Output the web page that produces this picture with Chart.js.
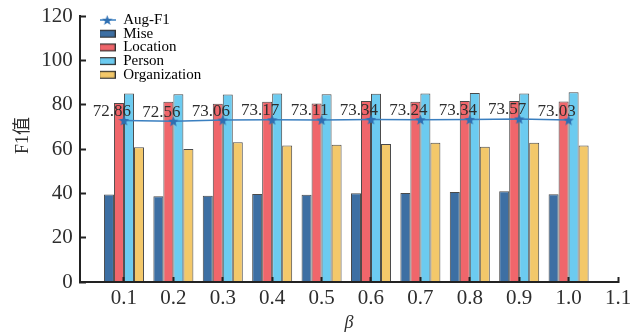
<!DOCTYPE html>
<html>
<head>
<meta charset="utf-8">
<script src="https://cdn.jsdelivr.net/npm/chart.js@4/dist/chart.umd.min.js"></script>
<style>
  html, body { margin: 0; padding: 0; background: #ffffff; }
  #wrap { width: 642px; height: 335px; }
</style>
</head>
<body>
<div id="wrap"><canvas id="c" width="642" height="335"></canvas></div>
<script>
// ---- data ----
const betaValues = [0.1, 0.2, 0.3, 0.4, 0.5, 0.6, 0.7, 0.8, 0.9, 1.0];
const xTickValues = [0.1, 0.2, 0.3, 0.4, 0.5, 0.6, 0.7, 0.8, 0.9, 1.0, 1.1];
const yTickValues = [0, 20, 40, 60, 80, 100, 120];
const miseValues = [39.5, 38.7, 38.9, 39.7, 39.4, 40.0, 40.2, 40.6, 40.9, 39.6];
const locationValues = [80.8, 81.3, 80.4, 81.3, 80.5, 81.6, 81.3, 81.7, 81.7, 81.4];
const personValues = [85.0, 84.7, 84.6, 85.0, 84.7, 84.9, 85.0, 85.3, 85.0, 85.6];
const organizationValues = [60.8, 60.0, 63.1, 61.6, 61.9, 62.3, 62.8, 61.0, 62.8, 61.6];
const augF1Values = [72.86, 72.56, 73.06, 73.17, 73.11, 73.34, 73.24, 73.34, 73.57, 73.03];
const seriesNames = ['Aug-F1', 'Mise', 'Location', 'Person', 'Organization'];
const xTitle = 'β';
const yTitle = 'F1值';

// ---- styles ----
const SERIF = "'Liberation Serif', 'Times New Roman', 'Noto Sans CJK SC', serif";
const TEXT = '#2e2e2e';
const AXIS = '#222222';
const LINE_BLUE = '#3a7fc0';
const STAR_BLUE = '#2e6fb2';
const barColors = ['#3d6fa3', '#f0666b', '#6ccbf0', '#f3c86a'];
const barBorder = '#4a4a4a';

function starPath(ctx, cx, cy, R, r) {
  ctx.beginPath();
  for (let i = 0; i < 10; i++) {
    const ang = -Math.PI / 2 + i * Math.PI / 5;
    const rad = i % 2 === 0 ? R : r;
    const px = cx + rad * Math.cos(ang), py = cy + rad * Math.sin(ang);
    if (i === 0) ctx.moveTo(px, py); else ctx.lineTo(px, py);
  }
  ctx.closePath();
}
function makeStar(size) {
  const cv = document.createElement('canvas');
  cv.width = size; cv.height = size;
  const g = cv.getContext('2d');
  starPath(g, size / 2, size / 2 + 0.5, size / 2, size / 4.6);
  g.fillStyle = STAR_BLUE; g.fill();
  return cv;
}
function makeLineStarIcon(w, h) {
  const cv = document.createElement('canvas');
  cv.width = w; cv.height = h;
  const g = cv.getContext('2d');
  g.strokeStyle = LINE_BLUE; g.lineWidth = 1.5;
  g.beginPath(); g.moveTo(0, h / 2); g.lineTo(w, h / 2); g.stroke();
  starPath(g, w / 2, h / 2 + 0.5, 5.5, 2.3);
  g.fillStyle = STAR_BLUE; g.fill();
  return cv;
}
function makeBoxIcon(w, h, fill) {
  const cv = document.createElement('canvas');
  cv.width = w; cv.height = h;
  const g = cv.getContext('2d');
  const bh = 8, y0 = Math.round((h - bh) / 2);
  g.fillStyle = fill; g.fillRect(0.5, y0 + 0.5, w - 1, bh - 1);
  g.strokeStyle = '#333'; g.lineWidth = 1.2; g.strokeRect(0.6, y0 + 0.6, w - 1.2, bh - 1.2);
  return cv;
}

const starImg = makeStar(11);
const legendIcons = [
  makeLineStarIcon(17, 12),
  makeBoxIcon(17, 12, barColors[0]),
  makeBoxIcon(17, 12, barColors[1]),
  makeBoxIcon(17, 12, barColors[2]),
  makeBoxIcon(17, 12, barColors[3])
];

function pts(vals) { return betaValues.map((b, i) => ({ x: b, y: vals[i] })); }

const barSeries = [miseValues, locationValues, personValues, organizationValues];
const datasets = [
  {
    type: 'line', label: seriesNames[0], data: pts(augF1Values),
    borderColor: LINE_BLUE, borderWidth: 1.5, pointStyle: starImg,
    pointRadius: 5, pointHoverRadius: 5, tension: 0, order: 0
  }
].concat(barSeries.map((vals, k) => ({
  type: 'bar', label: seriesNames[k + 1], data: pts(vals),
  backgroundColor: barColors[k], borderColor: barBorder, borderWidth: 1,
  categoryPercentage: 0.81, barPercentage: 1.0, order: 1
})));

const labelPlugin = {
  id: 'pointLabels',
  afterDatasetsDraw(chart) {
    const meta = chart.getDatasetMeta(0);
    const ctx = chart.ctx;
    ctx.save();
    ctx.font = "17px " + SERIF;
    ctx.fillStyle = TEXT;
    ctx.textAlign = 'center';
    ctx.textBaseline = 'middle';
    meta.data.forEach((el, i) => {
      ctx.fillText(augF1Values[i].toFixed(2), el.x - 12, el.y - 9);
    });
    ctx.restore();
  }
};

const legendPlace = {
  id: 'legendPlace',
  afterLayout(chart) {
    const lg = chart.legend;
    if (!lg) return;
    lg.left = chart.chartArea.left + 20;
    lg.top = chart.chartArea.top - 2.2;
  }
};

new Chart(document.getElementById('c'), {
  type: 'bar',
  data: { datasets },
  plugins: [labelPlugin, legendPlace],
  options: {
    responsive: false,
    devicePixelRatio: 1,
    animation: false,
    layout: { padding: { top: 16, right: 24, left: 0, bottom: 0 } },
    plugins: {
      tooltip: { enabled: false },
      legend: {
        position: 'chartArea',
        align: 'start',
        labels: {
          usePointStyle: true,
          pointStyleWidth: 17,
          padding: -1.3,
          color: TEXT,
          font: { family: SERIF, size: 15 },
          generateLabels(chart) {
            return chart.data.datasets.map((ds, i) => ({
              text: ds.label, datasetIndex: i, pointStyle: legendIcons[i],
              fillStyle: 'rgba(0,0,0,0)', strokeStyle: 'rgba(0,0,0,0)', lineWidth: 0, hidden: false
            }));
          }
        }
      }
    },
    scales: {
      x: {
        type: 'linear',
        offset: false,
        min: 0.011,
        max: 1.1,
        afterBuildTicks(scale) { scale.ticks = xTickValues.map(v => ({ value: v })); },
        afterFit(scale) { scale.height = 53; scale.paddingLeft = 0; scale.paddingRight = 0; },
        ticks: {
          color: TEXT, padding: 8.7, autoSkip: false, maxRotation: 0,
          font: { family: SERIF, size: 21 },
          callback: v => Number(v).toFixed(1)
        },
        grid: {
          offset: false, drawOnChartArea: false, drawTicks: true,
          tickLength: -5, tickColor: AXIS, tickWidth: 2, z: 1
        },
        border: { display: true, color: AXIS, width: 2, z: 1 },
        title: {
          display: true, text: xTitle, color: TEXT,
          font: { family: SERIF, size: 18, style: 'italic' },
          padding: { top: 0, bottom: 1 }
        }
      },
      y: {
        type: 'linear',
        min: 0, max: 120,
        afterBuildTicks(scale) { scale.ticks = yTickValues.map(v => ({ value: v })); },
        afterFit(scale) { scale.width = 80; scale.paddingTop = 0; scale.paddingBottom = 0; },
        ticks: {
          color: TEXT, padding: 13.3,
          font: { family: SERIF, size: 21 }
        },
        grid: {
          drawOnChartArea: false, drawTicks: true,
          tickLength: -6, tickColor: AXIS, tickWidth: 2, z: 1
        },
        border: { display: true, color: AXIS, width: 2, z: 1 },
        title: {
          display: true, text: '      ' + yTitle, color: TEXT,
          font: { family: SERIF, size: 18 },
          padding: { top: 12, bottom: 0 }
        }
      }
    }
  }
});
</script>
</body>
</html>
